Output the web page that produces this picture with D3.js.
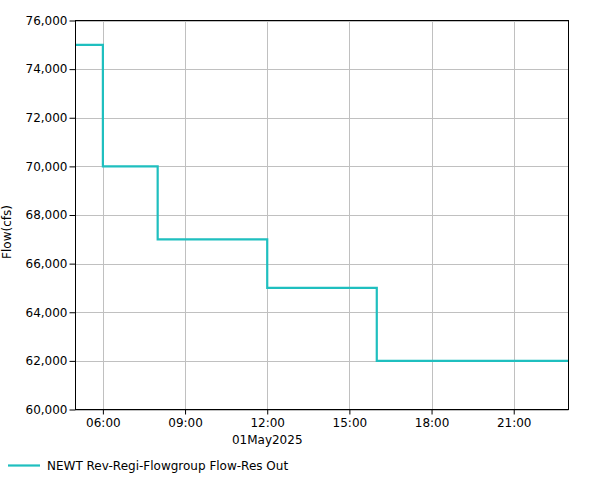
<!DOCTYPE html>
<html><head><meta charset="utf-8">
<script src="https://cdn.jsdelivr.net/npm/d3@7"></script>
<style>body{margin:0;background:#fff}svg{display:block;font-family:"DejaVu Sans",Verdana,sans-serif}</style>
</head><body><svg id="c" width="601" height="480"></svg>
<script>
const stepTimes = ["2025-05-01T05:00","2025-05-01T06:00","2025-05-01T08:00","2025-05-01T12:00","2025-05-01T16:00","2025-05-01T23:00"];
const flowValues = [75000, 70000, 67000, 65000, 62000, 62000];
const yTicks = [60000,62000,64000,66000,68000,70000,72000,74000,76000];
const xTickHours = [6,9,12,15,18,21];
const seriesName = "NEWT Rev-Regi-Flowgroup Flow-Res Out";
const dateLabel = "01May2025";
const yTitle = "Flow(cfs)";

const parse = d3.timeParse("%Y-%m-%dT%H:%M");
const data = stepTimes.map((t,i)=>({t:parse(t), v:flowValues[i]}));
const L=75.5, R=568.5, T=20.5, B=409.5;
const svg = d3.select("#c");
const x = d3.scaleTime().domain([parse("2025-05-01T05:00"), parse("2025-05-01T23:00")]).range([L,R]);
const y = d3.scaleLinear().domain([60000,76000]).range([B,T]);
const xTicks = xTickHours.map(h=>new Date(2025,4,1,h));

// grid
svg.append("g").selectAll("line").data(yTicks).join("line")
  .attr("x1",L).attr("x2",R).attr("y1",d=>Math.round(y(d))+0.5).attr("y2",d=>Math.round(y(d))+0.5)
  .attr("stroke","#c0c0c0").attr("stroke-width",1);
svg.append("g").selectAll("line").data(xTicks).join("line")
  .attr("y1",T).attr("y2",B).attr("x1",d=>Math.round(x(d))+0.5).attr("x2",d=>Math.round(x(d))+0.5)
  .attr("stroke","#c0c0c0").attr("stroke-width",1);

// line
const line = d3.line().x(d=>x(d.t)).y(d=>y(d.v)).curve(d3.curveStepAfter);
svg.append("path").datum(data).attr("d",line).attr("fill","none")
  .attr("stroke","#1fbfbf").attr("stroke-width",2.2).attr("stroke-linejoin","miter");

// frame
svg.append("rect").attr("x",L).attr("y",T).attr("width",R-L).attr("height",B-T)
  .attr("fill","none").attr("stroke","#000").attr("stroke-width",1);

// axes
const yAxis = d3.axisLeft(y).tickValues(yTicks).tickSize(6).tickPadding(2).tickFormat(d3.format(","));
const gy = svg.append("g").attr("transform",`translate(${L},0)`).call(yAxis);
gy.select(".domain").remove();
gy.selectAll("text").attr("font-size",12).attr("fill","#000").attr("font-family","DejaVu Sans");
gy.selectAll("line").attr("stroke","#000");

const xAxis = d3.axisBottom(x).tickValues(xTicks).tickSize(5).tickPadding(4).tickFormat(d3.timeFormat("%H:%M"));
const gx = svg.append("g").attr("transform",`translate(0,${B})`).call(xAxis);
gx.select(".domain").remove();
gx.selectAll("text").attr("font-size",12).attr("fill","#000").attr("font-family","DejaVu Sans");
gx.selectAll("line").attr("stroke","#000");

svg.append("text").attr("x",x(new Date(2025,4,1,12))).attr("y",444).attr("text-anchor","middle")
  .attr("font-size",12).text(dateLabel);

svg.append("text").attr("transform",`translate(11,232) rotate(-90)`).attr("text-anchor","middle")
  .attr("font-size",12).text(yTitle);

// legend
svg.append("line").attr("x1",8).attr("x2",40).attr("y1",465.5).attr("y2",465.5)
  .attr("stroke","#1fbfbf").attr("stroke-width",2.2);
svg.append("text").attr("x",47).attr("y",469.5).attr("font-size",12).text(seriesName);
</script></body></html>
